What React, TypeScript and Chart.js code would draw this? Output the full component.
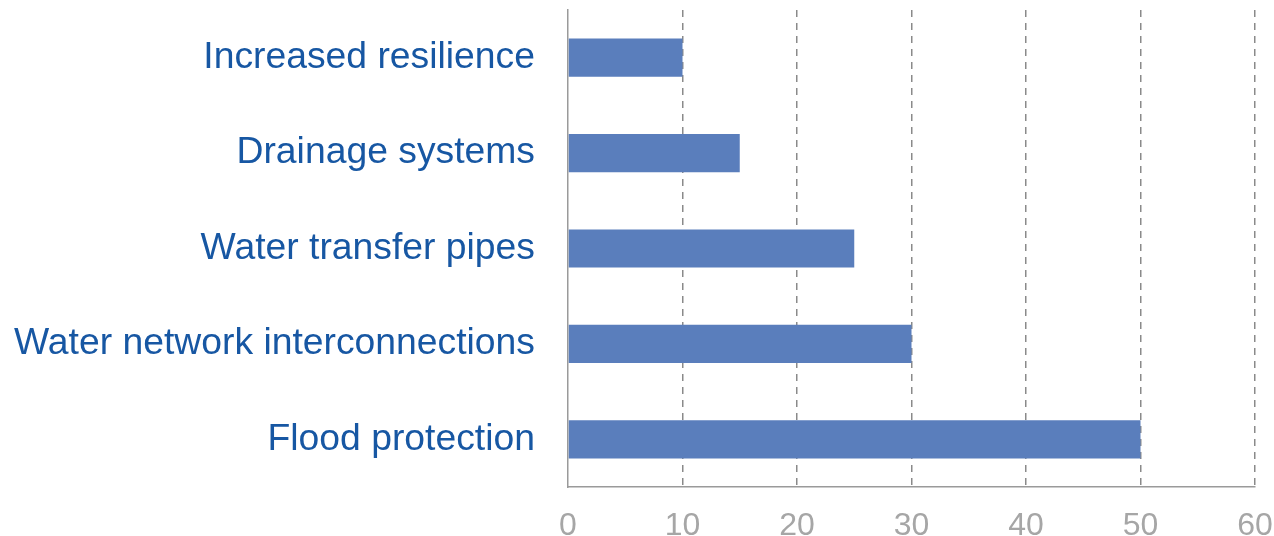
import React, { useEffect, useRef } from "react";
import { Chart, registerables } from "chart.js";

Chart.register(...registerables);

const categories = [
  "Increased resilience",
  "Drainage systems",
  "Water transfer pipes",
  "Water network interconnections",
  "Flood protection",
];
const values = [10, 15, 25, 30, 50];
const xTicks = [0, 10, 20, 30, 40, 50, 60];

export default function App() {
  const ref = useRef<HTMLCanvasElement | null>(null);

  useEffect(() => {
    document.body.style.margin = "0";
    if (!ref.current) return;
    const chart = new Chart(ref.current, {
      type: "bar",
      data: {
        labels: categories,
        datasets: [
          {
            data: values,
            backgroundColor: "#5A7EBC",
            borderWidth: 0,
            barPercentage: 0.4,
            categoryPercentage: 1,
          },
        ],
      },
      options: {
        indexAxis: "y",
        animation: false,
        responsive: true,
        maintainAspectRatio: false,
        layout: { padding: { top: 10, right: 19, left: 0, bottom: 0 } },
        plugins: { legend: { display: false }, tooltip: { enabled: false } },
        scales: {
          x: {
            min: xTicks[0],
            max: xTicks[xTicks.length - 1],
            afterBuildTicks: (scale: any) => {
              scale.ticks = xTicks.map((v) => ({ value: v }));
            },
            afterFit: (scale: any) => {
              scale.height = 49;
              scale.paddingLeft = 0;
              scale.paddingRight = 0;
            },
            grid: {
              drawTicks: false,
              color: (ctx: any) =>
                ctx.tick && ctx.tick.value === 0 ? "rgba(0,0,0,0)" : "#8a8a8a",
              lineWidth: 1.5,
            },
            border: { display: true, color: "#9a9a9a", width: 1.5, dash: [7, 6] },
            ticks: {
              color: "#a6a6a6",
              padding: 20,
              font: { family: "'Liberation Sans', Arial, sans-serif", size: 32 },
            },
          },
          y: {
            afterFit: (scale: any) => {
              scale.width = 568;
              scale.paddingTop = 0;
              scale.paddingBottom = 0;
            },
            grid: { display: false, drawTicks: false },
            border: { display: true, color: "#9a9a9a", width: 1.5 },
            ticks: {
              color: "#1757A3",
              padding: 33,
              font: { family: "'Liberation Sans', Arial, sans-serif", size: 37.3 },
            },
          },
        },
      },
    });
    return () => chart.destroy();
  }, []);

  return (
    <div style={{ position: "fixed", left: 0, top: 0, width: 1274, height: 536 }}>
      <canvas ref={ref} />
    </div>
  );
}
